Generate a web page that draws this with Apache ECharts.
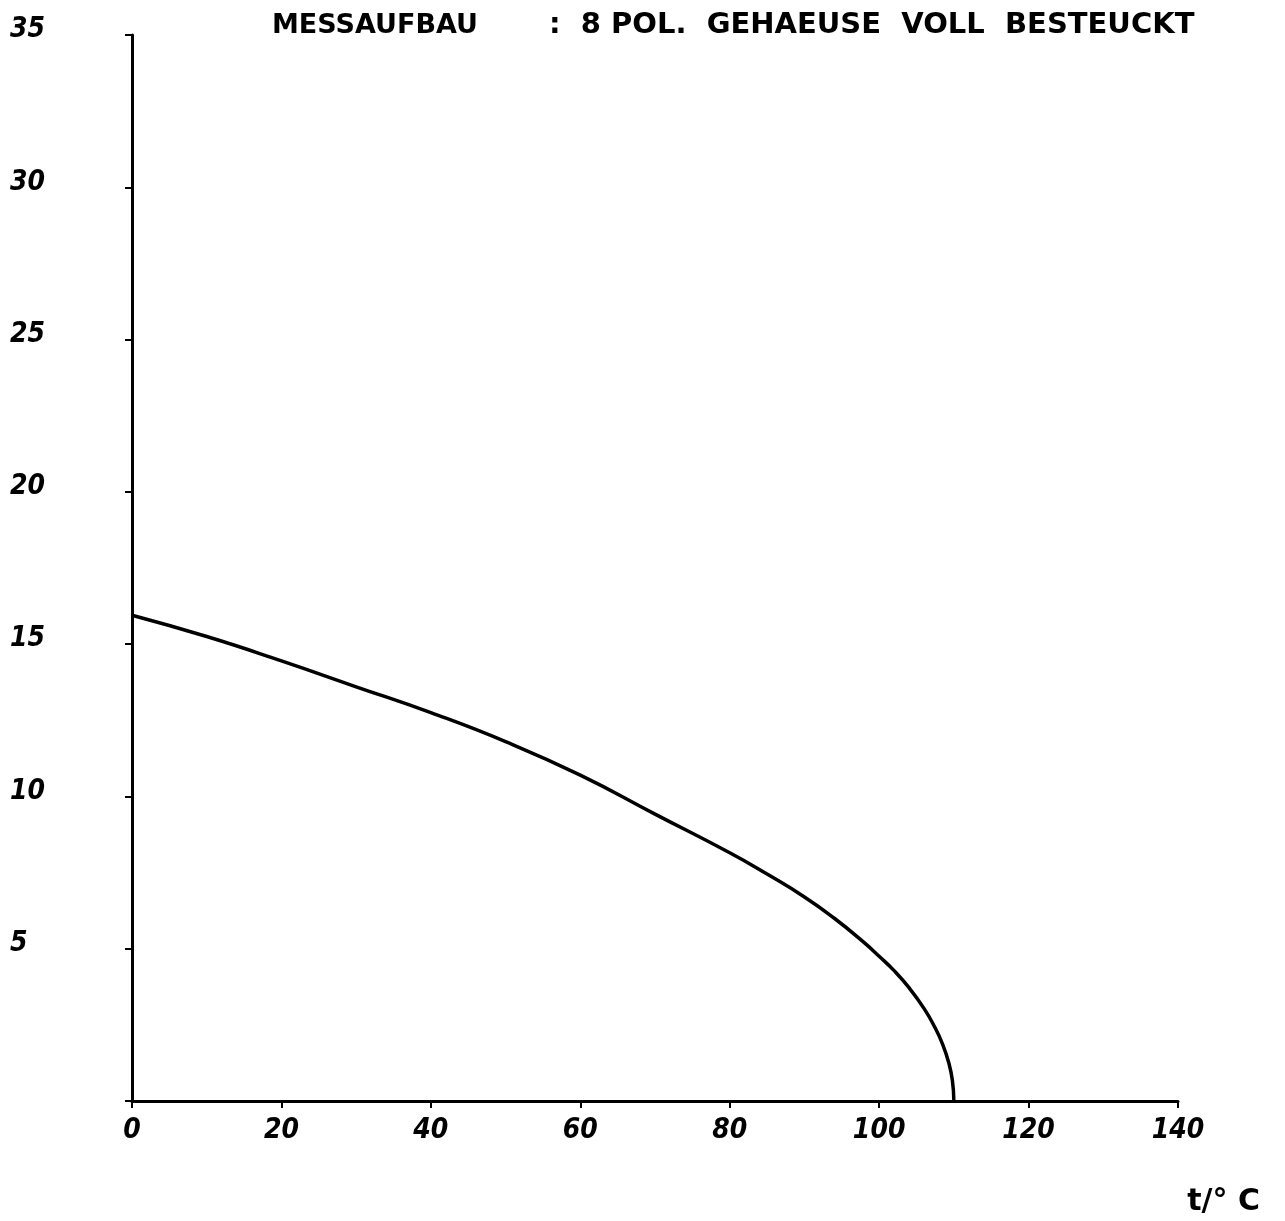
<!DOCTYPE html>
<html>
<head>
<meta charset="utf-8">
<script src="https://cdn.jsdelivr.net/npm/echarts@6/dist/echarts.min.js"></script>
<style>
  html, body { margin: 0; padding: 0; background: #fff; }
  #chart { width: 1285px; height: 1221px; }
</style>
</head>
<body>
<div id="chart"></div>
<script>
// curve: temperature t in °C vs value
var temps  = [0, 10, 20, 30, 40, 50, 60, 70, 80, 85, 90, 94, 98, 100, 102, 104, 106, 107.5, 108.5, 109.3, 109.8, 110];
var values = [15.95, 15.25, 14.45, 13.6, 12.75, 11.8, 10.7, 9.42, 8.15, 7.45, 6.7, 6.0, 5.2, 4.75, 4.28, 3.72, 3.04, 2.4, 1.86, 1.27, 0.68, 0];

var titleLeft = 'MESSAUFBAU';
var titleRight = ':  8 POL.  GEHAEUSE  VOLL  BESTEUCKT';
var xName = 't/° C';

var labelFont = {
  color: '#000',
  fontFamily: 'DejaVu Sans Condensed',
  fontWeight: 'bold',
  fontStyle: 'italic',
  fontSize: 28
};

var chart = echarts.init(document.getElementById('chart'));
var option = {
  backgroundColor: '#fff',
  animation: false,
  title: [
    { text: titleLeft, left: 267, top: 7,
      textStyle: { color: '#000', fontFamily: 'DejaVu Sans', fontWeight: 'bold', fontSize: 27 } },
    { text: titleRight, left: 544, top: 6,
      textStyle: { color: '#000', fontFamily: 'DejaVu Sans', fontWeight: 'bold', fontSize: 29 } },
    { text: xName, right: 20, top: 1182,
      textStyle: { color: '#000', fontFamily: 'DejaVu Sans', fontWeight: 'bold', fontSize: 30 } }
  ],
  grid: { left: 132, right: 107, top: 35, bottom: 120 },
  xAxis: {
    type: 'value',
    min: 0, max: 140, interval: 20,
    splitLine: { show: false },
    axisLine: { lineStyle: { color: '#000', width: 3 } },
    axisTick: { length: 7, lineStyle: { color: '#000', width: 2 } },
    axisLabel: Object.assign({ margin: 16 }, labelFont)
  },
  yAxis: {
    type: 'value',
    min: 0, max: 35, interval: 5,
    splitLine: { show: false },
    axisLine: { lineStyle: { color: '#000', width: 3 } },
    axisTick: { length: 7, lineStyle: { color: '#000', width: 2 } },
    axisLabel: Object.assign({
      margin: 122, align: 'left', verticalAlign: 'bottom', lineHeight: 10,
      formatter: function (v) { return v === 0 ? '' : String(v); }
    }, labelFont)
  },
  series: [{
    type: 'line',
    data: temps.map(function (t, i) { return [t, values[i]]; }),
    smooth: 0.5,
    showSymbol: false,
    lineStyle: { color: '#000', width: 3.5 }
  }]
};
chart.setOption(option);
</script>
</body>
</html>
